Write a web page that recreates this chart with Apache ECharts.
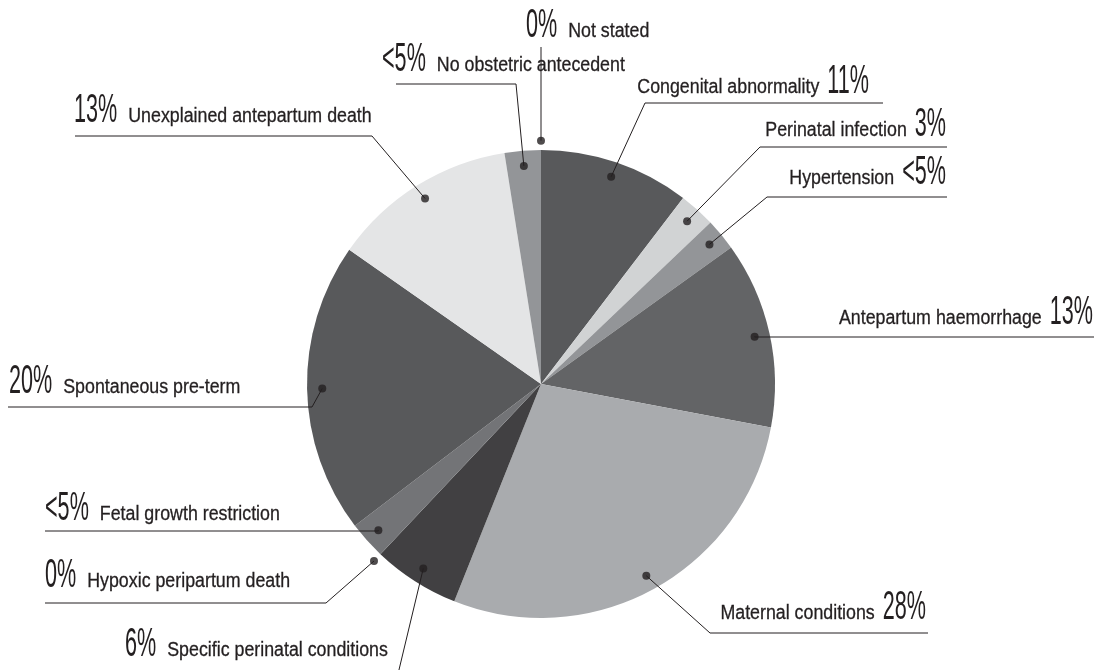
<!DOCTYPE html>
<html>
<head>
<meta charset="utf-8">
<script src="https://cdn.jsdelivr.net/npm/echarts@6/dist/echarts.min.js"></script>
<style>
  html, body { margin: 0; padding: 0; background: #fff; }
  #pie-chart { width: 1107px; height: 670px; }
</style>
</head>
<body>
<div id="pie-chart"></div>
<script>
// slices, clockwise from 12 o'clock
const categories = ['Congenital abnormality', 'Perinatal infection', 'Hypertension', 'Antepartum haemorrhage',
  'Maternal conditions', 'Specific perinatal conditions', 'Hypoxic peripartum death', 'Fetal growth restriction',
  'Spontaneous pre-term', 'Unexplained antepartum death', 'No obstetric antecedent', 'Not stated'];
const values = [10.4, 2.5, 2.2, 12.9, 28.1, 6.0, 0, 2.6, 20.1, 12.8, 2.5, 0];
const pctLabels = ['11%', '3%', '<5%', '13%', '28%', '6%', '0%', '<5%', '20%', '13%', '<5%', '0%'];

const sliceColors = ['#58595b', '#d1d3d4', '#939598', '#636466', '#a9abae', '#414042',
  '#808285', '#737477', '#58595b', '#e4e5e6', '#939598', '#808285'];

const CX = 541, CY = 384, R = 234;
const INK = '#231f20';
const NAME_SIZE = 20, PCT_SIZE = 40;
const NAME_FONT = NAME_SIZE + 'px "Liberation Sans", Arial, sans-serif';
const PCT_FONT = PCT_SIZE + 'px "Liberation Sans", Arial, sans-serif';
const NAME_SX = 0.89, PCT_SX = 0.54;
const MID = 0.31; // baseline sits this far (in em) below the text middle

// where each label sits: side, text anchor x, text baseline, line y, corner x, line far end
const place = [
  { side: 'R', tx: 869, by: 94, ly: 103, cx: 645, ex: 883 },
  { side: 'R', tx: 946, by: 137, ly: 147, cx: 760, ex: 947 },
  { side: 'R', tx: 946, by: 185, ly: 197, cx: 767, ex: 947 },
  { side: 'R', tx: 1093, by: 325, ly: 337, cx: null, ex: 1094 },
  { side: 'R', tx: 926, by: 620, ly: 633, cx: 710, ex: 928 },
  { side: 'L', tx: 125, by: 657, ly: 674, cx: 398, ex: 125 },
  { side: 'L', tx: 45, by: 588, ly: 603, cx: 326, ex: 45 },
  { side: 'L', tx: 45, by: 521, ly: 531, cx: null, ex: 45 },
  { side: 'L', tx: 9, by: 394, ly: 407, cx: 312, ex: 8 },
  { side: 'L', tx: 74, by: 123, ly: 136, cx: 372, ex: 75 },
  { side: 'L', tx: 382, by: 72, ly: 84, cx: 516, ex: 396 },
  { side: 'T', tx: 526, by: 38, ly: 47, cx: null, ex: null }
];

const total = values.reduce((a, b) => a + b, 0);

// dot radius (as share of pie radius) and angle position of each slice middle
const dots = [];
let acc = 0;
values.forEach(function (v) {
  const k = v === 0 ? 1.04 : 0.935;
  dots.push([k, acc + v / 2]);
  acc += v;
});

function dotPixel(i) {
  const a = dots[i][1] / total * Math.PI * 2;
  const r = dots[i][0] * R;
  return [CX + r * Math.sin(a), CY - r * Math.cos(a)];
}

const measureCtx = document.createElement('canvas').getContext('2d');
function textWidth(t, font) {
  measureCtx.font = font;
  return measureCtx.measureText(t).width;
}

// labels + leader lines
const graphics = [];
place.forEach(function (s, i) {
  const d = dotPixel(i);
  let pts;
  if (s.side === 'T') {
    pts = [d, [d[0], s.ly]];
  } else {
    const corner = s.cx == null ? [d[0], s.ly] : [s.cx, s.ly];
    pts = [d, corner, [s.ex, s.ly]];
  }
  graphics.push({
    type: 'polyline', z: 10, silent: true,
    shape: { points: pts },
    style: { stroke: INK, lineWidth: 1, fill: null }
  });

  const pw = textWidth(pctLabels[i], PCT_FONT) * PCT_SX;
  const right = s.side === 'R';
  const nameX = right ? s.tx - pw - 8 : s.tx + pw + 11;
  graphics.push({
    type: 'text', z: 11, silent: true,
    x: s.tx, y: s.by - PCT_SIZE * MID, scaleX: PCT_SX,
    style: { text: pctLabels[i], font: PCT_FONT, fill: INK, align: right ? 'right' : 'left', verticalAlign: 'middle' }
  });
  graphics.push({
    type: 'text', z: 11, silent: true,
    x: nameX, y: s.by - NAME_SIZE * MID, scaleX: NAME_SX,
    style: {
      text: categories[i], font: NAME_FONT, fill: INK, stroke: INK, lineWidth: 0.3,
      align: right ? 'right' : 'left', verticalAlign: 'middle'
    }
  });
});

const chart = echarts.init(document.getElementById('pie-chart'));

const option = {
  animation: false,
  polar: { center: [CX, CY], radius: R },
  angleAxis: { type: 'value', min: 0, max: total, startAngle: 90, clockwise: true, show: false },
  radiusAxis: { type: 'value', min: 0, max: 1, show: false },
  graphic: graphics,
  series: [
    {
      type: 'pie',
      center: [CX, CY],
      radius: R,
      startAngle: 90,
      clockwise: true,
      silent: true,
      label: { show: false },
      labelLine: { show: false },
      data: categories.map(function (c, i) {
        return { name: c, value: values[i], itemStyle: { color: sliceColors[i] } };
      })
    },
    {
      type: 'scatter',
      coordinateSystem: 'polar',
      data: dots,
      symbolSize: 8,
      clip: false,
      silent: true,
      z: 20,
      itemStyle: { color: INK }
    }
  ]
};
chart.setOption(option);
</script>
</body>
</html>
